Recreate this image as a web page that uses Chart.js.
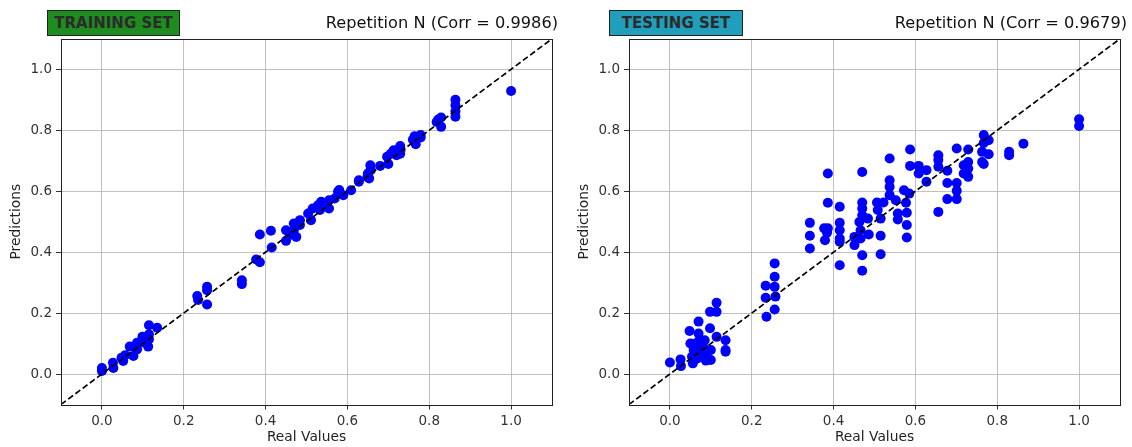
<!DOCTYPE html>
<html>
<head>
<meta charset="utf-8">
<script src="https://cdn.jsdelivr.net/npm/chart.js@4.4.1/dist/chart.umd.min.js"></script>
<style>
  body { margin: 0; background: #fff; font-family: 'DejaVu Sans', sans-serif; }
  .panel { position: absolute; top: 0; width: 566px; height: 447px; }
  .tag { position: absolute; top: 10px; height: 24px; border: 1px solid #222; color: #2b2b2b;
         font: bold 15px 'DejaVu Sans', sans-serif; line-height: 24px; text-align: center; }
  .title { position: absolute; top: 13px; width: 300px; text-align: right; color: #111;
           font: 16.2px 'DejaVu Sans', sans-serif; line-height: 19px; }
</style>
</head>
<body>
<div class="panel" style="left:0">
  <canvas id="train" width="566" height="447"></canvas>
  <div class="tag" style="left:47px;width:131px;background:#1e8c1e">TRAINING SET</div>
  <div class="title" style="left:258px">Repetition N (Corr = 0.9986)</div>
</div>
<div class="panel" style="left:566px">
  <canvas id="test" width="566" height="447"></canvas>
  <div class="tag" style="left:43px;width:132px;background:#219ebc">TESTING SET</div>
  <div class="title" style="left:261px">Repetition N (Corr = 0.9679)</div>
</div>
<script>
// scatter values
const trainReal = [
  0, 0, 0.027, 0.028, 0.048, 0.052, 0.057, 0.068, 0.077, 0.086, 0.086,
  0.099, 0.104, 0.113, 0.115, 0.115, 0.115, 0.135,
  0.233, 0.235, 0.257, 0.257, 0.257, 0.342, 0.342,
  0.377, 0.386, 0.386, 0.413, 0.415,
  0.45, 0.45, 0.459, 0.469, 0.469, 0.475, 0.484, 0.484,
  0.504, 0.511, 0.515, 0.528, 0.533, 0.536, 0.546, 0.555, 0.555, 0.569, 0.577, 0.58, 0.59,
  0.609, 0.628, 0.628, 0.649, 0.65, 0.656, 0.657, 0.653, 0.68,
  0.697, 0.7, 0.706, 0.713, 0.72, 0.729, 0.729, 0.73,
  0.76, 0.764, 0.767, 0.779, 0.779,
  0.822, 0.829, 0.829, 0.818, 0.864, 0.864, 0.864, 0.864, 1.0
];
const trainPred = [
  0.02, 0.01, 0.037, 0.02, 0.053, 0.043, 0.062, 0.09, 0.059, 0.081, 0.103,
  0.122, 0.103, 0.09, 0.16, 0.13, 0.114, 0.152,
  0.256, 0.243, 0.286, 0.275, 0.228, 0.308, 0.295,
  0.376, 0.367, 0.458, 0.47, 0.415,
  0.472, 0.437, 0.456, 0.494, 0.472, 0.45, 0.505, 0.489,
  0.527, 0.505, 0.543, 0.554, 0.538, 0.565, 0.559, 0.57, 0.543, 0.576, 0.598, 0.604, 0.587,
  0.603, 0.631, 0.636, 0.647, 0.658, 0.685, 0.669, 0.642, 0.683,
  0.713, 0.689, 0.723, 0.734, 0.718, 0.748, 0.723, 0.736,
  0.769, 0.78, 0.754, 0.784, 0.776,
  0.835, 0.842, 0.811, 0.827, 0.9, 0.882, 0.862, 0.844, 0.929
];
const testReal = [
  0, 0.026, 0.027,
  0.048, 0.05, 0.054, 0.056, 0.058, 0.063, 0.07, 0.07, 0.072, 0.074, 0.081, 0.085, 0.088, 0.089,
  0.098, 0.1, 0.1, 0.098, 0.114, 0.114, 0.114, 0.136, 0.136, 0.136, 0.081, 0.067,
  0.234, 0.234, 0.236, 0.256, 0.256, 0.256, 0.258, 0.256,
  0.342, 0.342, 0.342, 0.377, 0.379, 0.384, 0.386, 0.386, 0.386,
  0.415, 0.415, 0.415, 0.415, 0.415, 0.415,
  0.451, 0.451, 0.463, 0.466, 0.466, 0.47, 0.47, 0.47, 0.47, 0.47, 0.47, 0.484, 0.486,
  0.506, 0.508, 0.515, 0.515, 0.515, 0.522, 0.537, 0.537, 0.537, 0.537, 0.552, 0.557, 0.557,
  0.572, 0.577, 0.579, 0.579, 0.579, 0.585, 0.587, 0.587,
  0.608, 0.608, 0.627, 0.627, 0.656, 0.656, 0.656, 0.656, 0.678, 0.678, 0.678,
  0.701, 0.701, 0.701, 0.701, 0.718, 0.718, 0.729, 0.729, 0.729, 0.729,
  0.763, 0.763, 0.767, 0.767, 0.767, 0.779, 0.779,
  0.829, 0.829, 0.864, 1.0, 1.0
];
const testPred = [
  0.038, 0.048, 0.026,
  0.141, 0.1, 0.057, 0.035, 0.079, 0.1, 0.172, 0.133, 0.111, 0.073, 0.09, 0.111, 0.044, 0.062,
  0.15, 0.079, 0.046, 0.204, 0.234, 0.204, 0.122, 0.111, 0.079, 0.073, 0.062, 0.051,
  0.29, 0.25, 0.188, 0.363, 0.319, 0.286, 0.254, 0.212,
  0.496, 0.454, 0.412, 0.478, 0.439, 0.464, 0.658, 0.562, 0.478,
  0.549, 0.496, 0.472, 0.445, 0.434, 0.357,
  0.45, 0.423, 0.499, 0.472, 0.445, 0.663, 0.563, 0.543, 0.521, 0.39, 0.339, 0.51, 0.458,
  0.563, 0.538, 0.51, 0.454, 0.393, 0.563, 0.707, 0.636, 0.614, 0.587, 0.57, 0.527, 0.507,
  0.603, 0.562, 0.529, 0.489, 0.448, 0.592, 0.737, 0.683,
  0.683, 0.658, 0.669, 0.631, 0.718, 0.702, 0.68, 0.532, 0.667, 0.627, 0.574,
  0.74, 0.627, 0.601, 0.574, 0.685, 0.658, 0.737, 0.696, 0.674, 0.647,
  0.729, 0.696, 0.784, 0.758, 0.689, 0.767, 0.721,
  0.729, 0.718, 0.756, 0.836, 0.814
];
const tickValues = [0, 0.2, 0.4, 0.6, 0.8, 1.0];
const axisRange = [-0.1, 1.1];

const FONT = "'DejaVu Sans', sans-serif";

const frame = {
  id: 'frame',
  afterDraw(chart) {
    const { ctx, chartArea: a } = chart;
    ctx.save();
    ctx.strokeStyle = '#222';
    ctx.lineWidth = 1;
    ctx.strokeRect(Math.round(a.left) + 0.5, Math.round(a.top) + 0.5,
      Math.round(a.right - a.left), Math.round(a.bottom - a.top));
    ctx.restore();
  }
};

function axis(title, isY) {
  return {
    type: 'linear',
    min: axisRange[0],
    max: axisRange[1],
    afterBuildTicks: s => { s.ticks = tickValues.map(v => ({ value: v })); },
    afterFit: s => { if (isY) s.width = 61; else s.height = 42.5; },
    border: { display: false },
    grid: { color: '#b0b0b0', lineWidth: 0.8, tickLength: 5, tickColor: '#333', tickWidth: 1 },
    ticks: {
      color: '#333', padding: 4, font: { family: FONT, size: 13.5 },
      callback: v => v.toFixed(1)
    },
    title: {
      display: true, text: title, color: '#222',
      font: { family: FONT, size: 13.8 },
      padding: isY ? { top: 8, bottom: 0 } : { top: 0, bottom: 1 }
    }
  };
}

function makeChart(id, xs, ys, pad) {
  const pts = xs.map((x, i) => ({ x: x, y: ys[i] }));
  return new Chart(document.getElementById(id), {
    type: 'scatter',
    data: {
      datasets: [
        {
          type: 'line',
          data: axisRange.map(v => ({ x: v, y: v })),
          borderColor: '#000',
          borderWidth: 1.7,
          borderDash: [6, 3],
          pointRadius: 0,
          fill: false
        },
        {
          data: pts,
          backgroundColor: '#0000ff',
          borderWidth: 0,
          pointRadius: 5
        }
      ]
    },
    options: {
      responsive: false,
      animation: false,
      devicePixelRatio: 1,
      layout: { padding: pad },
      plugins: { legend: { display: false }, tooltip: { enabled: false } },
      scales: { x: axis('Real Values', false), y: axis('Predictions', true) }
    },
    plugins: [frame]
  });
}

makeChart('train', trainReal, trainPred, { top: 38.8, right: 14, bottom: 0, left: 0 });
makeChart('test', testReal, testPred, { top: 38.8, right: 12, bottom: 0, left: 2 });
</script>
</body>
</html>
